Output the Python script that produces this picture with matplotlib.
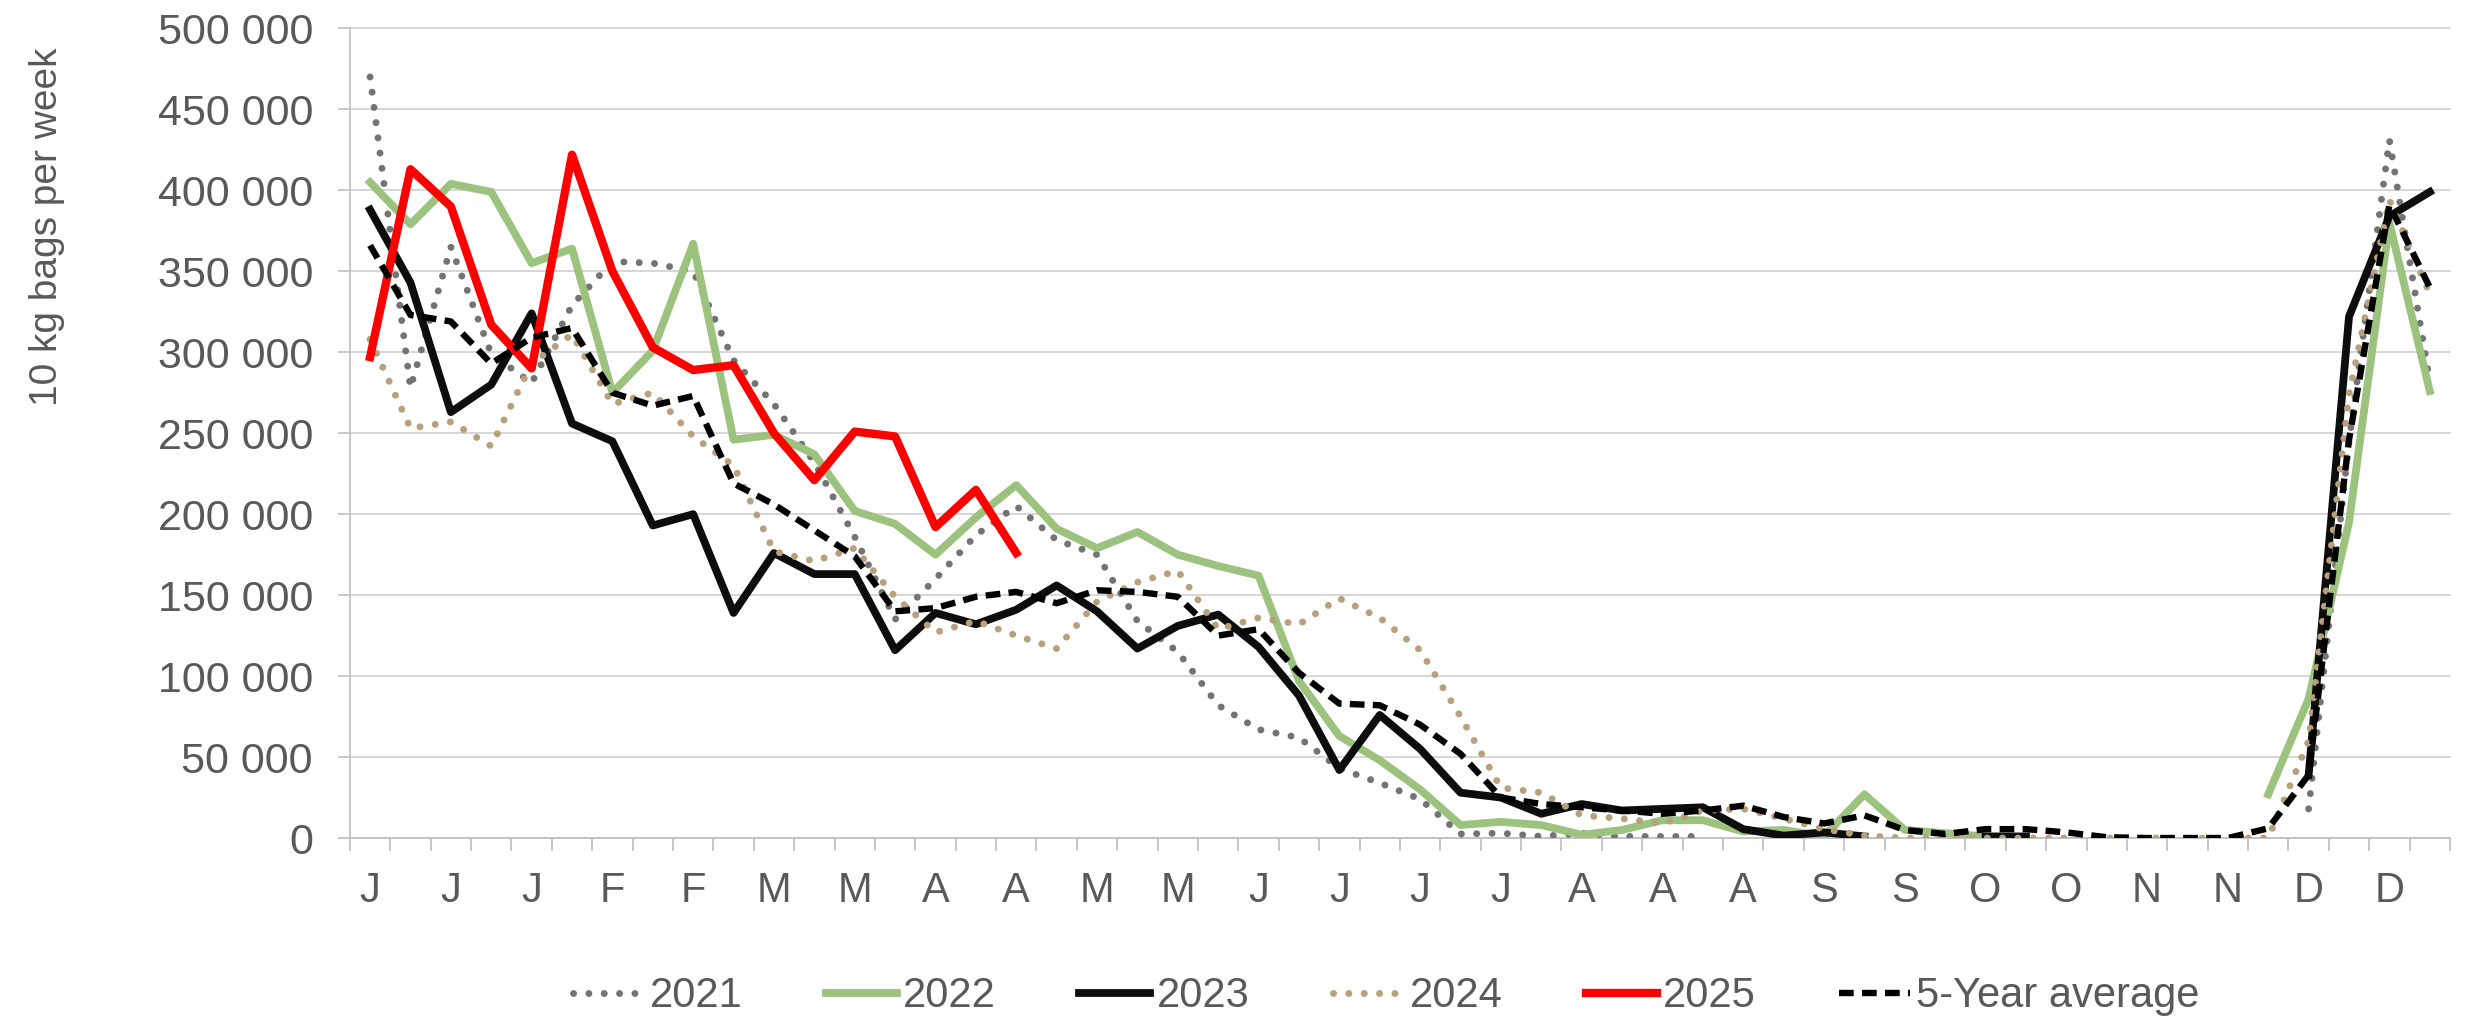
import numpy as np
import matplotlib
matplotlib.use("Agg")
import matplotlib.pyplot as plt
from matplotlib.ticker import FuncFormatter, FixedLocator

nan = np.nan

# week-by-week values, 52 weeks (thousands of 10 kg bags)
y2021 = [470, 278, 365, 299, 281, 329, 356, 355, 350, 295, 268, 232, 186, 135, 160, 187,
         205, 184, 175, 134, 115, 82, 67, 62, 43, 34, 24, 2.5, 3, 1, 3, 1, 1, 1,
         nan, nan, nan, nan, nan, nan, nan, nan, nan, nan, nan, nan, nan, nan,
         18, 245, 431, 282]
y2022 = [405, 379, 404, 399, 355, 364, 275, 301, 367, 246, 249, 237, 202, 194, 175, 198,
         218, 191, 179, 189, 175, 168, 162, 97, 63, 48, 30, 8, 10, 8, 2, 5, 11, 11, 4, 5,
         1, 27, 5, 3, 1, nan, nan, nan, nan, nan, nan, 27, 86, 195, 380, 276]
y2023 = [388, 343, 263, 280, 324, 256, 245, 193, 200, 139, 176, 163, 163, 116, 139, 132,
         141, 156, 140, 117, 131, 138, 118, 88, 42, 76, 55, 28, 25, 15, 21, 17, 18, 19,
         5.5, 1.5, 3.5, 1, nan, nan, 1, 1, nan, nan, nan, nan, nan, nan, 39, 322, 384, 399]
y2024 = [308, 253, 257, 242, 293, 311, 268, 275, 248, 230, 177, 171, 179, 149, 127, 134,
         125, 117, 146, 158, 165, 129, 136, 132, 148, 136, 116, 75, 31, 28, 14, 12, 9, 17,
         18, 12, 5.5, 1.5, 0, 0, 0, 0, 0, 0, 0, 0, 0, 0, 60, 274, 394, 336]
y2025 = [297, 413, 390, 317, 290, 422, 350, 303, 289, 292, 250, 221, 251, 248, 192, 215, 176]
avg5 = [366, 323, 319, 293, 309, 315, 275, 267, 273, 219, 206, 190, 174, 140, 142, 149,
        152, 145, 153, 152, 149, 125, 129, 102, 83, 82, 70, 52, 25, 21, 19, 17, 15, 17,
        20, 13, 9, 14, 5, 2.5, 5.5, 5.5, 3.5, 0.5, 0, 0, 0, 6, 39, 246, 391, 340]

month_labels = ["J", "J", "J", "F", "F", "M", "M", "A", "A", "M", "M", "J", "J",
                "J", "J", "A", "A", "A", "S", "S", "O", "O", "N", "N", "D", "D"]

plt.rcParams['font.family'] = ['Liberation Sans', 'DejaVu Sans']
TXT = "#595959"

fig = plt.figure(figsize=(24.71, 10.24), dpi=100)
ax = fig.add_axes([0.1416, 0.1816, 0.8499, 0.7907])

def draw(vals, **kw):
    x = np.arange(len(vals))
    ax.plot(x, np.array(vals, dtype=float) * 1000, **kw)

draw(y2021, color="#737373", lw=5.0, linestyle=(0, (0.01, 2.2)),
     dash_capstyle="round", label="2021", zorder=3)
draw(y2022, color="#9BC37E", lw=5.6, label="2022", zorder=4)
draw(y2023, color="#0D0D0D", lw=5.6, label="2023", zorder=5)
draw(y2024, color="#B9A07D", lw=5.0, linestyle=(0, (0.01, 2.2)),
     dash_capstyle="round", label="2024", zorder=6)
draw(y2025, color="#FF0000", lw=6.0, label="2025", zorder=7)
draw(avg5, color="#000000", lw=4.6, linestyle=(0, (2.3, 1.3)),
     label="5-Year average", zorder=8)

ax.set_xlim(-0.5, 51.5)
ax.set_ylim(0, 500000)

ax.yaxis.set_major_locator(FixedLocator(np.arange(0, 500001, 50000)))
ax.yaxis.set_major_formatter(FuncFormatter(lambda v, p: f"{v:,.0f}".replace(",", " ")))
ax.grid(axis="y", color="#D0D0D0", lw=1.2, zorder=0)
for gl in ax.get_ygridlines():
    gl.set_clip_on(False)

ax.set_xticks(np.arange(0, 52, 2))
ax.set_xticklabels(month_labels)
ax.set_xticks(np.arange(-0.5, 52, 1), minor=True)
ax.tick_params(axis="x", which="major", length=0, pad=24, labelsize=30, labelcolor=TXT)
ax.tick_params(axis="x", which="minor", length=9, width=1.2, color="#BFBFBF")
ax.tick_params(axis="y", which="major", length=8.6, width=1.2, color="#BFBFBF",
               pad=18, labelsize=31, labelcolor=TXT)

for s in ["top", "right"]:
    ax.spines[s].set_visible(False)
for s in ["left", "bottom"]:
    ax.spines[s].set_color("#BFBFBF")
    ax.spines[s].set_linewidth(1.2)

fig.text(47 / 2471, 1 - 227 / 1024, "10 kg bags per week", rotation=90,
         ha="center", va="center", fontsize=28, color=TXT)

handles, labels = ax.get_legend_handles_labels()
fig.legend(handles, labels, loc="center", bbox_to_anchor=(0.561, 0.027), ncol=6,
           frameon=False, fontsize=30, labelcolor=TXT, handlelength=1.7,
           handletextpad=0.15, columnspacing=2.0)

fig.savefig("out.png", dpi=100)
